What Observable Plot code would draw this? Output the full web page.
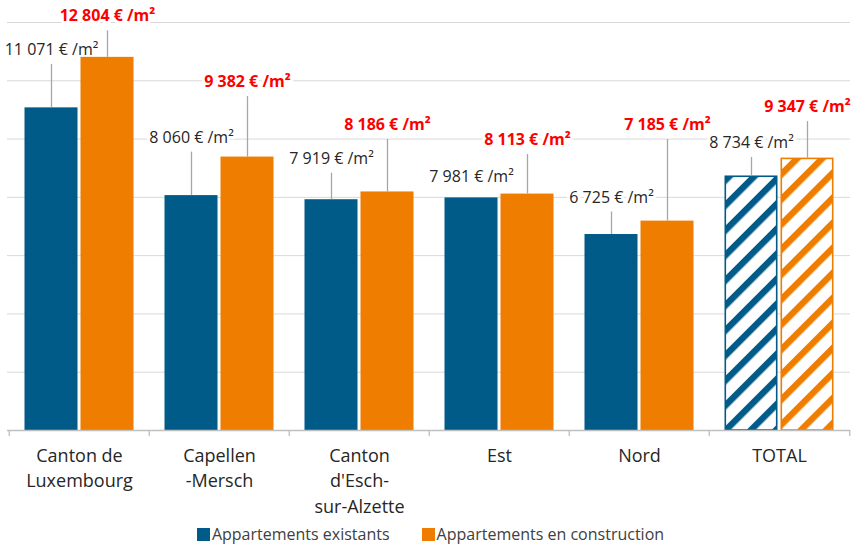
<!DOCTYPE html>
<html><head><meta charset="utf-8">
<script src="https://cdn.jsdelivr.net/npm/d3@7"></script>
<script src="https://cdn.jsdelivr.net/npm/@observablehq/plot@0.6"></script>
<style>
body{margin:0;background:#fff;font-family:"Open Sans",sans-serif;}
#legend{display:flex;justify-content:center;align-items:center;height:24px;font-size:16px;color:#404040;padding-left:6px;}
.item{display:flex;align-items:center;margin:0 16px;}
.sw{width:13px;height:13px;margin-right:2px;display:inline-block;}
</style></head><body><div id="chart"></div><div id="legend"></div>
<script>
// ---- data ----
const categories = ["Canton de\nLuxembourg", "Capellen\n-Mersch", "Canton\nd'Esch-\nsur-Alzette", "Est", "Nord", "TOTAL"];
const existing = [11071, 8060, 7919, 7981, 6725, 8734];
const construction = [12804, 9382, 8186, 8113, 7185, 9347];
const seriesNames = ["Appartements existants", "Appartements en construction"];
const gridTicks = [2000, 4000, 6000, 8000, 10000, 12000, 14000];
const hatchedCategory = "TOTAL";

// ---- layout (label lift above bar top, px) ----
const liftExisting = [58, 58, 41, 21, 37, 33];
const liftConstruction = [41, 75, 67, 54, 96, 51];

const colors = ["#005b88", "#ef7d00"];
const W = 855, H = 522, mL = 7, mR = 5, mT = 22, mB = 92;
const yMax = 14000;
const plotH = H - mT - mB;
const k = plotH / yMax;
const step = (W - mL - mR) / categories.length;
const padOuter = 15.5, barW = 53.5, gap = 2.5;
const offE = padOuter + barW / 2 - step / 2;
const offC = padOuter + barW + gap + barW / 2 - step / 2;

const fmt = d3.formatLocale({decimal: ",", thousands: " ", grouping: [3], currency: ["", ""]}).format(",");
const lbl = v => fmt(v) + " € /m²";

const rows = [];
categories.forEach((c, i) => {
  rows.push({cat: c, s: 0, v: existing[i], lift: liftExisting[i]});
  rows.push({cat: c, s: 1, v: construction[i], lift: liftConstruction[i]});
});

const marks = [];
marks.push(Plot.ruleY(gridTicks, {stroke: "#d9d9d9", strokeWidth: 1}));
[0, 1].forEach(s => {
  const insL = s === 0 ? padOuter : padOuter + barW + gap;
  const insR = step - insL - barW;
  const solid = rows.filter(r => r.s === s && r.cat !== hatchedCategory);
  const hatched = rows.filter(r => r.s === s && r.cat === hatchedCategory);
  marks.push(Plot.barY(solid, {x: "cat", y: "v", fill: colors[s], insetLeft: insL, insetRight: insR}));
  marks.push(Plot.barY(hatched, {x: "cat", y: "v", fill: `url(#hatch${s})`, stroke: colors[s], strokeWidth: 1.6, insetLeft: insL + 0.8, insetRight: insR + 0.8, insetTop: 0.8}));
  const off = s === 0 ? offE : offC;
  const sr = rows.filter(r => r.s === s);
  marks.push(Plot.ruleX(sr.filter(r => r.lift - 14.5 > 8), {x: "cat", y1: "v", y2: r => r.v + (r.lift - 14.5) / k, dx: off, stroke: "#a6a6a6", strokeWidth: 1.3}));
  marks.push(Plot.text(sr, {x: "cat", y: r => r.v + r.lift / k, dx: off, text: r => lbl(r.v),
    fontSize: 16, fontWeight: s === 1 ? "bold" : "normal", fill: s === 1 ? "#ff0000" : "#262626",
    stroke: "white", strokeWidth: 6, paintOrder: "stroke"}));
});
marks.push(Plot.ruleY([0], {stroke: "#bfbfbf", strokeWidth: 1.3}));
marks.push(Plot.ruleX(categories, {x: d => d, dx: -step / 2, insetTop: plotH, insetBottom: -6, stroke: "#bfbfbf", strokeWidth: 1.3}));
marks.push(Plot.ruleX(categories.slice(-1), {x: d => d, dx: step / 2, insetTop: plotH, insetBottom: -6, stroke: "#bfbfbf", strokeWidth: 1.3}));
marks.push(Plot.text(categories, {x: d => d, y: 0, text: d => d, dy: 13, lineAnchor: "top", lineHeight: 1.42, fontSize: 18, fill: "#262626"}));

const chart = Plot.plot({
  width: W, height: H, marginLeft: mL, marginRight: mR, marginTop: mT, marginBottom: mB,
  style: {fontFamily: "Open Sans", background: "white"},
  x: {type: "band", domain: categories, padding: 0, axis: null},
  y: {domain: [0, yMax], axis: null},
  marks
});

const defs = d3.select(chart).insert("defs", ":first-child");
colors.forEach((c, s) => {
  const p = defs.append("pattern").attr("id", `hatch${s}`).attr("patternUnits", "userSpaceOnUse")
    .attr("width", 17.7).attr("height", 10).attr("patternTransform", "rotate(45)");
  p.append("rect").attr("width", 17.7).attr("height", 10).attr("fill", "white");
  p.append("rect").attr("width", 6.4).attr("height", 10).attr("fill", c);
});
document.getElementById("chart").appendChild(chart);

const lg = d3.select("#legend");
seriesNames.forEach((n, s) => {
  const it = lg.append("div").attr("class", "item");
  it.append("span").attr("class", "sw").style("background", colors[s]);
  it.append("span").text(n);
});
</script></body></html>
